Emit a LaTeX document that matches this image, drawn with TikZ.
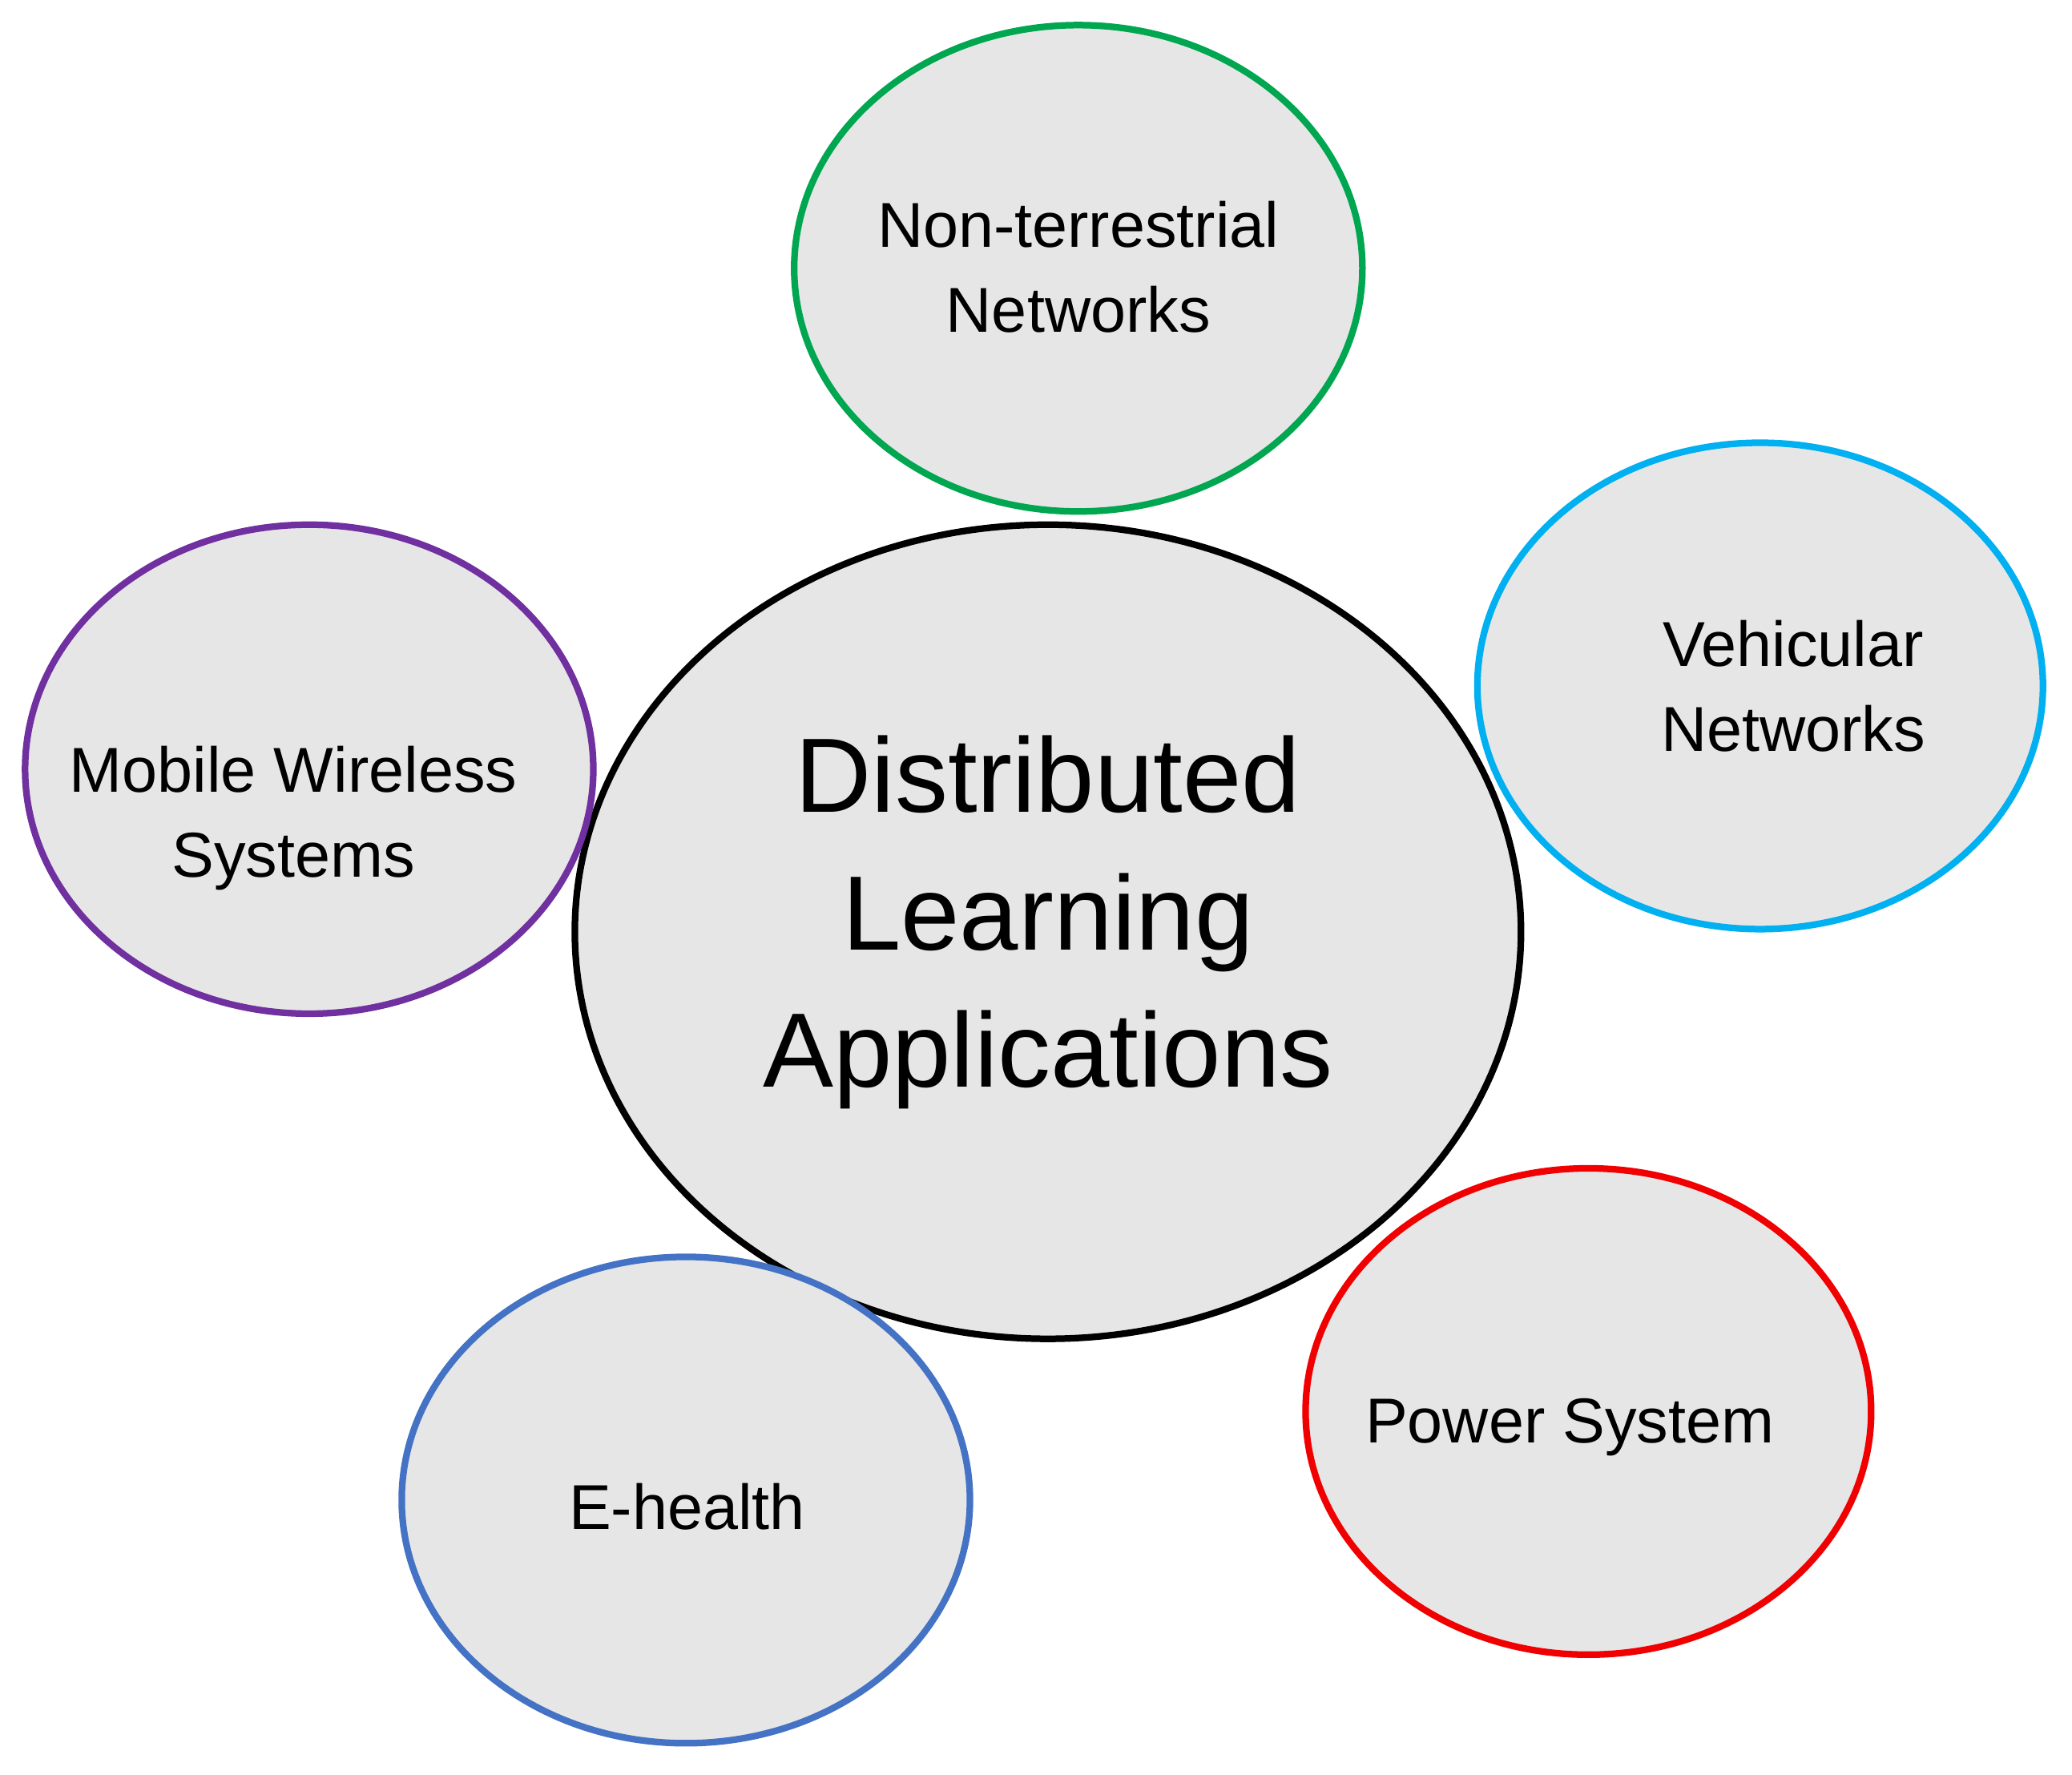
\documentclass[tikz,border=0pt]{standalone}
\usepackage{fontspec}
\setmainfont{Liberation Sans}
\begin{document}
\begin{tikzpicture}[x=1pt,y=-1pt,
  bub/.style={draw, fill={rgb,255:red,230;green,230;blue,230}, line width=5pt},
  lbl/.style={align=center, font=\fontsize{48}{64}\selectfont, inner sep=0pt},
  lblb/.style={align=center, font=\fontsize{80}{104}\selectfont, inner sep=0pt}]
\useasboundingbox (0,0) rectangle (1568,1343);
\definecolor{cg}{RGB}{0,166,80}
\definecolor{cc}{RGB}{0,176,240}
\definecolor{cp}{RGB}{112,48,160}
\definecolor{cb}{RGB}{68,114,196}
\definecolor{cr}{RGB}{240,0,0}
\draw[bub, draw=black] (793,705) ellipse [x radius=358, y radius=308];
\draw[bub, draw=cg] (816,203) ellipse [x radius=215, y radius=184];
\draw[bub, draw=cc] (1332,519) ellipse [x radius=214, y radius=184];
\draw[bub, draw=cp] (234,582) ellipse [x radius=215, y radius=185];
\draw[bub, draw=cb] (519,1135) ellipse [x radius=215, y radius=184];
\draw[bub, draw=cr] (1202,1068) ellipse [x radius=214, y radius=184];
\node[lblb] (c) at (793,698) {Distributed\\Learning\\Applications};
\node[lbl] (n) at (816,202) {Non-terrestrial\\Networks};
\node[lbl] (v) at (1357,519) {Vehicular\\Networks};
\node[lbl] (m) at (222,619) {Mobile Wireless\\Systems};
\node[lbl] (e) at (520,1140) {E-health};
\node[lbl] (p) at (1188,1080) {Power System};
\end{tikzpicture}
\end{document}
